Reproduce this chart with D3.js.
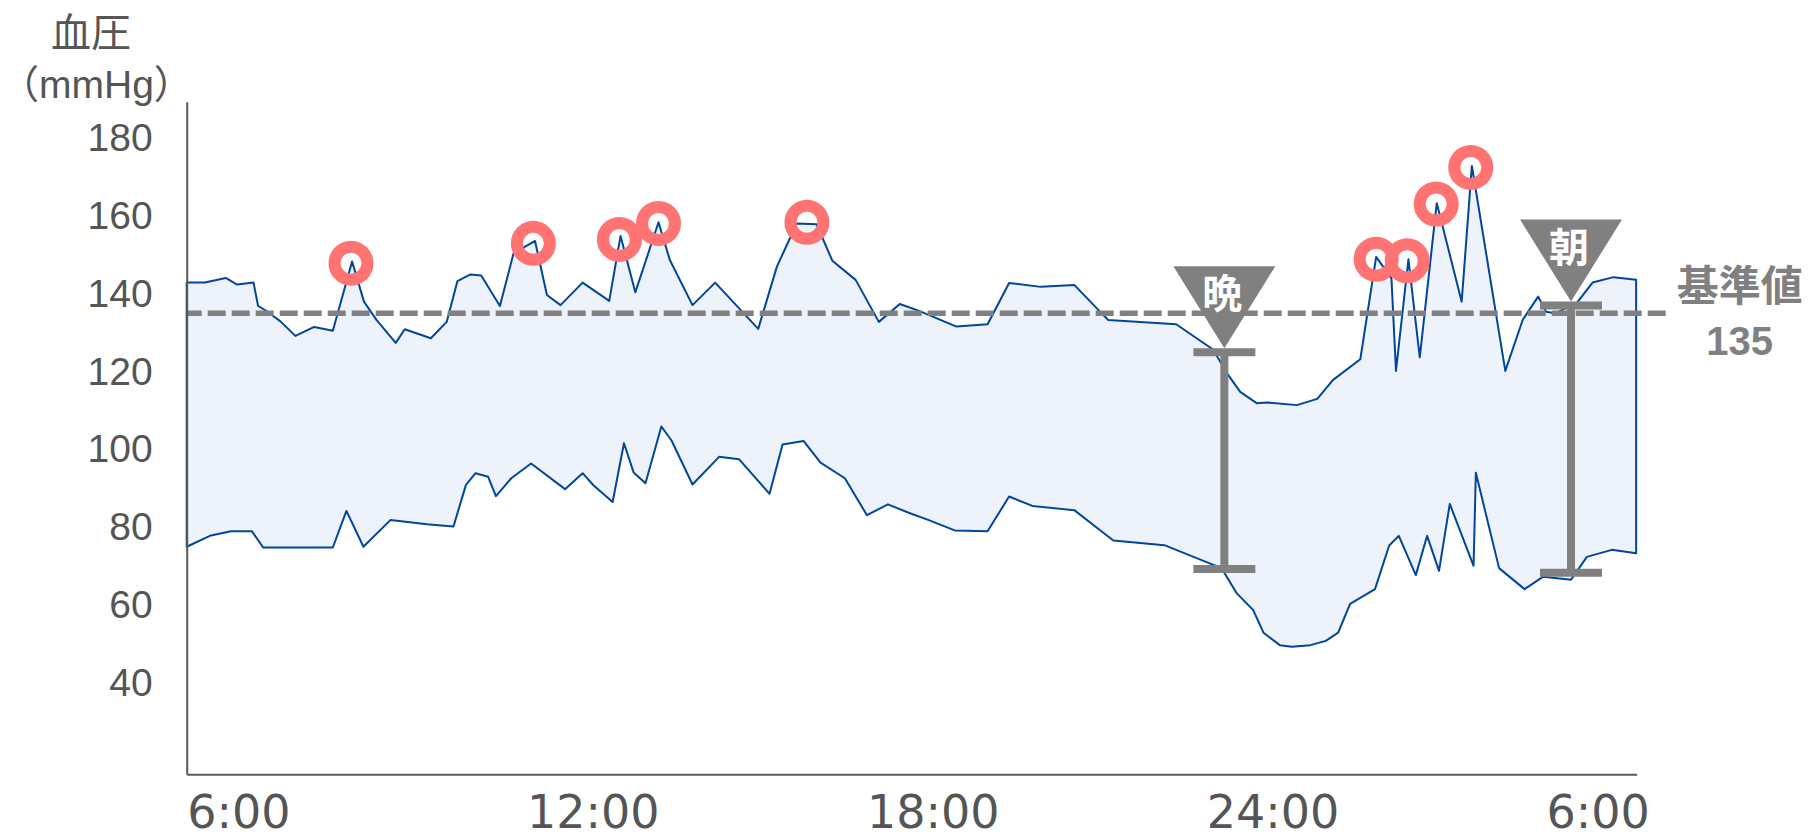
<!DOCTYPE html>
<html>
<head>
<meta charset="utf-8">
<script src="https://cdn.jsdelivr.net/npm/d3@7"></script>
<style>
  body { margin: 0; background: #fff; }
</style>
</head>
<body>
<div id="chart"></div>
<script>
// hours after 6:00 / mmHg
const sysHours = [0, 0.32, 0.69, 0.89, 1.18, 1.26, 1.41, 1.65, 1.92, 2.25, 2.58, 2.92, 3.13, 3.35, 3.69, 3.85,
  4.31, 4.59, 4.78, 5.01, 5.20, 5.53, 5.77, 6.15, 6.36, 6.60, 6.99, 7.46, 7.66, 7.92, 8.33, 8.53, 8.93, 9.33,
  10.09, 10.42, 10.77, 11.12, 11.40, 11.81, 12.22, 12.59, 12.92, 13.59, 14.14, 14.52, 15.08, 15.67, 16.12,
  16.27, 17.47, 18.12, 18.39, 18.60, 18.89, 19.07, 19.60, 19.96, 20.24, 20.72, 21.00, 21.27, 21.35, 21.57,
  21.77, 22.07, 22.51, 22.69, 23.28, 23.59, 23.86, 24.00, 24.16, 24.54, 24.82, 25.19, 25.59];
const sysValues = [142.9, 142.9, 144.1, 142.4, 142.9, 136.9, 135.6, 133.0, 129.2, 131.5, 130.5, 148.3, 138.0,
  133.3, 127.4, 130.9, 128.6, 132.8, 143.3, 145.0, 144.7, 136.9, 150.4, 153.6, 139.7, 137.1, 142.9, 138.2,
  154.9, 140.4, 158.4, 148.7, 137.1, 142.9, 131.0, 147.0, 158.1, 157.9, 148.5, 143.6, 132.8, 137.4, 135.7,
  131.6, 132.2, 142.8, 141.8, 142.3, 135.5, 133.3, 132.2, 125.7, 119.1, 114.8, 111.9, 112.1, 111.4, 113.0,
  117.9, 123.2, 149.5, 144.0, 120.2, 148.9, 123.7, 163.3, 138.0, 172.9, 120.2, 133.4, 139.3, 135.4, 135.0,
  137.6, 142.9, 144.3, 143.6];

const diaHours = [0, 0.41, 0.78, 1.15, 1.35, 2.58, 2.82, 3.12, 3.60, 4.24, 4.71, 4.93, 5.10, 5.32, 5.46, 5.73,
  6.08, 6.68, 6.99, 7.18, 7.52, 7.72, 7.89, 8.10, 8.38, 8.56, 8.93, 9.40, 9.75, 10.29, 10.52, 10.89, 11.19,
  11.62, 12.01, 12.38, 12.77, 13.09, 13.56, 14.14, 14.52, 14.93, 15.67, 16.12, 16.36, 17.26, 18.27, 18.54,
  18.83, 19.01, 19.30, 19.51, 19.84, 20.11, 20.33, 20.54, 20.98, 21.23, 21.40, 21.70, 21.90, 22.11, 22.30,
  22.72, 22.76, 23.17, 23.62, 23.95, 24.44, 24.72, 25.16, 25.59];
const diaValues = [75.0, 77.8, 79.0, 79.0, 74.8, 74.8, 84.2, 75.0, 81.9, 80.8, 80.2, 90.9, 93.9, 93.0, 88.0,
  92.6, 96.4, 89.8, 93.9, 90.8, 86.5, 101.6, 94.1, 91.3, 105.9, 102.3, 91.0, 98.1, 97.5, 88.6, 101.3, 102.2,
  96.6, 92.6, 83.1, 85.9, 83.6, 81.9, 79.2, 79.0, 87.9, 85.5, 84.4, 79.3, 76.6, 75.4, 69.5, 63.0, 58.7, 52.9,
  49.7, 49.3, 49.7, 50.8, 52.9, 60.3, 64.1, 75.3, 77.8, 67.7, 77.8, 68.8, 86.0, 70.1, 94.0, 69.5, 64.1, 67.3,
  66.5, 72.4, 74.2, 73.3];

// readings circled as high
const alertHours = [2.90, 6.12, 7.64, 8.33, 10.95, 21.00, 21.55, 22.06, 22.67];
const alertValues = [147.9, 153.0, 154.0, 158.1, 158.4, 148.9, 148.5, 163.1, 172.5];

// evening / morning ranges
const markerLabels = ['晩', '朝'];
const markerHours = [18.32, 24.44];
const markerHighs = [125, 137];
const markerLows = [69.3, 68.3];

const threshold = 135;
const thresholdLabel = '基準値';

const xTickHours = [0, 6, 12, 18, 24];
const xTickLabels = ['6:00', '12:00', '18:00', '24:00', '6:00'];
const yTicks = [40, 60, 80, 100, 120, 140, 160, 180];

const width = 1808, height = 839;
const gray = '#808080';
const lineBlue = '#00469b';

const svg = d3.select('#chart').append('svg')
  .attr('width', width)
  .attr('height', height);

const x = d3.scaleLinear().domain([0, 25.6]).range([186.7, 1636.7]);
const y = d3.scaleLinear().domain([16.5, 189.4]).range([774.3, 101.7]);

const sys = sysHours.map((h, i) => [h, sysValues[i]]);
const dia = diaHours.map((h, i) => [h, diaValues[i]]);

const line = d3.line().x(d => x(d[0])).y(d => y(d[1]));

// band between systolic and diastolic, outlined in blue
svg.append('path')
  .attr('d', line(sys.concat(dia.slice().reverse())) + 'Z')
  .attr('fill', '#eef2fa')
  .attr('stroke', lineBlue)
  .attr('stroke-width', 2)
  .attr('stroke-linejoin', 'round');

// threshold line
const yRef = y(threshold);
svg.append('line')
  .attr('x1', x.range()[0]).attr('x2', x.range()[1] + 33)
  .attr('y1', yRef).attr('y2', yRef)
  .attr('stroke', gray)
  .attr('stroke-width', 5.5)
  .attr('stroke-dasharray', '18,6')
  .attr('stroke-dashoffset', 3);

svg.append('text')
  .attr('x', x.range()[1] + 103).attr('y', yRef - 12)
  .attr('text-anchor', 'middle')
  .style('font-family', '"Noto Sans CJK JP", sans-serif')
  .style('font-weight', 'bold')
  .style('font-size', '42px')
  .attr('fill', gray)
  .text(thresholdLabel);

svg.append('text')
  .attr('x', x.range()[1] + 103).attr('y', yRef + 42)
  .attr('text-anchor', 'middle')
  .style('font-family', '"Liberation Sans", Arial, sans-serif')
  .style('font-weight', 'bold')
  .style('font-size', '40px')
  .attr('fill', gray)
  .text(threshold);

// high readings
svg.selectAll('.alert')
  .data(alertHours)
  .enter().append('circle')
  .attr('class', 'alert')
  .attr('cx', d => x(d))
  .attr('cy', (d, i) => y(alertValues[i]))
  .attr('r', 16.5)
  .attr('fill', 'none')
  .attr('stroke', '#ff7373')
  .attr('stroke-width', 12);

// evening / morning range bars with the pointer triangles
const capHalf = 31, triHalf = 51, triHeight = 82;
markerLabels.forEach((label, i) => {
  const mx = x(markerHours[i]);
  const top = y(markerHighs[i]);
  const bottom = y(markerLows[i]);
  const g = svg.append('g');

  g.append('line')
    .attr('x1', mx).attr('x2', mx).attr('y1', top).attr('y2', bottom)
    .attr('stroke', gray).attr('stroke-width', 8);
  [top, bottom].forEach(cy => {
    g.append('line')
      .attr('x1', mx - capHalf).attr('x2', mx + capHalf).attr('y1', cy).attr('y2', cy)
      .attr('stroke', gray).attr('stroke-width', 8);
  });

  const apex = top - 4;
  g.append('path')
    .attr('d', `M${mx - triHalf},${apex - triHeight}L${mx + triHalf},${apex - triHeight}L${mx},${apex}Z`)
    .attr('fill', gray);

  g.append('text')
    .attr('x', mx - 2).attr('y', apex - 40)
    .attr('text-anchor', 'middle')
    .style('font-family', '"Noto Sans CJK JP", sans-serif')
    .style('font-weight', 'bold')
    .style('font-size', '40px')
    .attr('fill', '#fff')
    .text(label);
});

// axes
const yAxis = d3.axisLeft(y).tickValues(yTicks).tickSize(0).tickSizeOuter(0).tickPadding(34);
const yg = svg.append('g')
  .attr('transform', `translate(${x.range()[0]},0)`)
  .call(yAxis);
yg.select('.domain').attr('stroke', '#595959').attr('stroke-width', 2);
yg.selectAll('text')
  .style('font-family', '"Liberation Sans", Arial, sans-serif')
  .style('font-size', '39px')
  .attr('fill', '#555');

const xAxis = d3.axisBottom(x).tickValues(xTickHours).tickSize(0).tickSizeOuter(0)
  .tickFormat((d, i) => xTickLabels[i]);
const xg = svg.append('g')
  .attr('transform', `translate(0,${y.range()[0]})`)
  .call(xAxis);
xg.select('.domain').attr('stroke', '#595959').attr('stroke-width', 2);
xg.selectAll('text')
  .attr('text-anchor', 'start')
  .attr('y', 54)
  .attr('dy', 0)
  .style('font-family', '"DejaVu Sans", sans-serif')
  .style('font-size', '46px')
  .attr('fill', '#555');

// y axis title
svg.append('text')
  .attr('x', 91).attr('y', 47)
  .attr('text-anchor', 'middle')
  .style('font-family', '"Noto Sans CJK JP", sans-serif')
  .style('font-size', '40px')
  .attr('fill', '#555')
  .text('血圧');

svg.append('text')
  .attr('x', 0).attr('y', 98)
  .attr('text-anchor', 'start')
  .style('font-family', '"Liberation Sans", "Noto Sans CJK JP", sans-serif')
  .style('font-size', '39px')
  .attr('fill', '#555')
  .text('（mmHg）');
</script>
</body>
</html>
